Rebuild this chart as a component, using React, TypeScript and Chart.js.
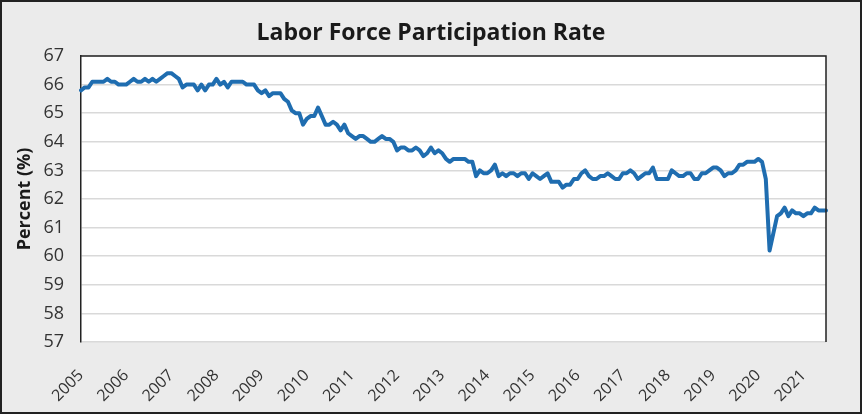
import React, { useEffect, useRef } from "react";
import { Chart, registerables } from "chart.js";

Chart.register(...registerables);

const startYear = 2005;
const endYear = 2021;

// Monthly labor force participation rate (%), Jan 2005 - Jul 2021
const rate2005 = [65.8, 65.9, 65.9, 66.1, 66.1, 66.1, 66.1, 66.2, 66.1, 66.1, 66.0, 66.0];
const rate2006 = [66.0, 66.1, 66.2, 66.1, 66.1, 66.2, 66.1, 66.2, 66.1, 66.2, 66.3, 66.4];
const rate2007 = [66.4, 66.3, 66.2, 65.9, 66.0, 66.0, 66.0, 65.8, 66.0, 65.8, 66.0, 66.0];
const rate2008 = [66.2, 66.0, 66.1, 65.9, 66.1, 66.1, 66.1, 66.1, 66.0, 66.0, 66.0, 65.8];
const rate2009 = [65.7, 65.8, 65.6, 65.7, 65.7, 65.7, 65.5, 65.4, 65.1, 65.0, 65.0, 64.6];
const rate2010 = [64.8, 64.9, 64.9, 65.2, 64.9, 64.6, 64.6, 64.7, 64.6, 64.4, 64.6, 64.3];
const rate2011 = [64.2, 64.1, 64.2, 64.2, 64.1, 64.0, 64.0, 64.1, 64.2, 64.1, 64.1, 64.0];
const rate2012 = [63.7, 63.8, 63.8, 63.7, 63.7, 63.8, 63.7, 63.5, 63.6, 63.8, 63.6, 63.7];
const rate2013 = [63.6, 63.4, 63.3, 63.4, 63.4, 63.4, 63.4, 63.3, 63.3, 62.8, 63.0, 62.9];
const rate2014 = [62.9, 63.0, 63.2, 62.8, 62.9, 62.8, 62.9, 62.9, 62.8, 62.9, 62.9, 62.7];
const rate2015 = [62.9, 62.8, 62.7, 62.8, 62.9, 62.6, 62.6, 62.6, 62.4, 62.5, 62.5, 62.7];
const rate2016 = [62.7, 62.9, 63.0, 62.8, 62.7, 62.7, 62.8, 62.8, 62.9, 62.8, 62.7, 62.7];
const rate2017 = [62.9, 62.9, 63.0, 62.9, 62.7, 62.8, 62.9, 62.9, 63.1, 62.7, 62.7, 62.7];
const rate2018 = [62.7, 63.0, 62.9, 62.8, 62.8, 62.9, 62.9, 62.7, 62.7, 62.9, 62.9, 63.0];
const rate2019 = [63.1, 63.1, 63.0, 62.8, 62.9, 62.9, 63.0, 63.2, 63.2, 63.3, 63.3, 63.3];
const rate2020 = [63.4, 63.3, 62.7, 60.2, 60.8, 61.4, 61.5, 61.7, 61.4, 61.6, 61.5, 61.5];
const rate2021 = [61.4, 61.5, 61.5, 61.7, 61.6, 61.6, 61.6];

const rateValues = [
  ...rate2005, ...rate2006, ...rate2007, ...rate2008, ...rate2009, ...rate2010,
  ...rate2011, ...rate2012, ...rate2013, ...rate2014, ...rate2015, ...rate2016,
  ...rate2017, ...rate2018, ...rate2019, ...rate2020, ...rate2021,
];

const monthLabels: string[] = [];
for (let y = startYear; y <= endYear; y++) {
  for (let m = 1; m <= 12; m++) {
    if (monthLabels.length < rateValues.length) {
      monthLabels.push(`${y}-${String(m).padStart(2, "0")}`);
    }
  }
}

const yMin = 57;
const yMax = 67;

const frameColor = "#222222";

const plotFramePlugin = {
  id: "plotFrame",
  beforeDraw(chart: any) {
    const { ctx, chartArea } = chart;
    ctx.save();
    ctx.fillStyle = "#ffffff";
    ctx.fillRect(chartArea.left, chartArea.top, chartArea.right - chartArea.left, chartArea.bottom - chartArea.top);
    ctx.restore();
  },
  afterDraw(chart: any) {
    const { ctx, chartArea } = chart;
    ctx.save();
    ctx.strokeStyle = frameColor;
    ctx.lineWidth = 1.5;
    ctx.beginPath();
    ctx.moveTo(chartArea.left, chartArea.top);
    ctx.lineTo(chartArea.right, chartArea.top);
    ctx.lineTo(chartArea.right, chartArea.bottom);
    ctx.stroke();
    ctx.restore();
  },
};

export default function App() {
  const canvasRef = useRef<HTMLCanvasElement | null>(null);

  useEffect(() => {
    if (!canvasRef.current) return;
    const chart = new Chart(canvasRef.current, {
      type: "line",
      data: {
        labels: monthLabels,
        datasets: [
          {
            data: rateValues,
            borderColor: "#1f6db0",
            borderWidth: 4,
            pointRadius: 0,
            tension: 0,
            borderJoinStyle: "round",
            borderCapStyle: "round",
            fill: false,
          },
        ],
      },
      plugins: [plotFramePlugin],
      options: {
        animation: false,
        responsive: false,
        devicePixelRatio: 1,
        layout: { padding: 0 },
        plugins: {
          legend: { display: false },
          tooltip: { enabled: false },
          title: {
            display: true,
            text: "Labor Force Participation Rate",
            color: "#1a1a1a",
            font: { family: "'Open Sans'", size: 23, weight: "bold" },
            padding: { top: 18, bottom: 8.4 },
          },
        },
        scales: {
          x: {
            type: "category",
            offset: false,
            grid: { display: false },
            border: { display: false },
            ticks: {
              autoSkip: false,
              minRotation: 45,
              maxRotation: 45,
              padding: 16,
              color: "#333333",
              font: { family: "'Open Sans'", size: 16 },
              callback: function (this: any, value: any) {
                const lbl = this.getLabelForValue(value) as string;
                return lbl.endsWith("-01") ? lbl.slice(0, 4) : "";
              },
            },
            afterFit(scale: any) {
              scale.height = 70;
            },
          },
          y: {
            min: yMin,
            max: yMax,
            grid: { color: "#d9d9d9", lineWidth: 1.5, drawTicks: false },
            border: { display: true, color: frameColor, width: 1.5 },
            ticks: {
              stepSize: 1,
              padding: 17,
              color: "#333333",
              font: { family: "'Open Sans'", size: 18 },
            },
            title: {
              display: true,
              text: "Percent (%)",
              color: "#1a1a1a",
              font: { family: "'Open Sans'", size: 18, weight: "bold" },
              padding: { top: 12, bottom: 0 },
            },
            afterFit(scale: any) {
              scale.width = 79;
            },
          },
          yRightSpace: {
            position: "right",
            min: yMin,
            max: yMax,
            grid: { display: false, drawTicks: false },
            border: { display: false },
            ticks: { display: false },
            afterFit(scale: any) {
              scale.width = 34;
            },
          },
        },
      },
    });
    return () => chart.destroy();
  }, []);

  return (
    <div
      style={{
        position: "fixed",
        left: 0,
        top: 0,
        width: 862,
        height: 414,
        boxSizing: "border-box",
        border: `2px solid ${frameColor}`,
        background: "#ebebeb",
      }}
    >
      <canvas ref={canvasRef} width={858} height={410} style={{ display: "block", width: 858, height: 410 }} />
    </div>
  );
}
